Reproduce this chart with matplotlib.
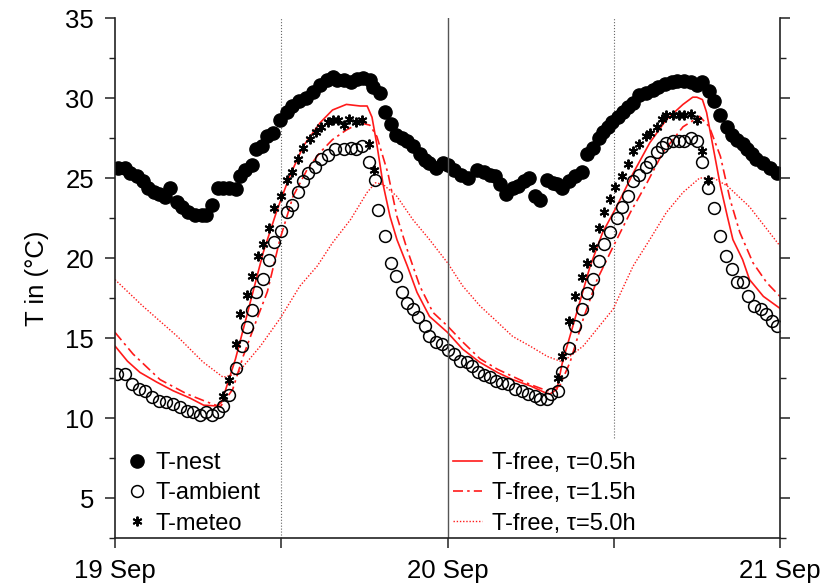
import numpy as np
import matplotlib
matplotlib.use("Agg")
import matplotlib.pyplot as plt
from matplotlib.lines import Line2D

plt.rcParams['font.family'] = ['Liberation Sans', 'DejaVu Sans']

# hours since 19 Sep 00:00
nest_h = [0.2, 0.7, 1.1, 1.6, 2.0, 2.4, 2.8, 3.2, 3.6, 4.0,
          4.5, 4.8, 5.3, 5.8, 6.3, 6.6, 7.0, 7.4, 7.8, 8.2,
          8.7, 9.0, 9.4, 9.9, 10.2, 10.6, 11.0, 11.4, 11.9, 12.4,
          12.8, 13.3, 13.8, 14.3, 14.8, 15.3, 15.7, 16.0, 16.5, 17.0,
          17.5, 17.9, 18.4, 18.6, 19.1, 19.5, 19.9, 20.3, 20.7, 21.1,
          21.5, 22.0, 22.4, 22.7, 23.2, 23.7, 24.0, 24.5, 25.0, 25.5,
          26.1, 26.6, 27.1, 27.4, 27.8, 28.2, 28.7, 29.1, 29.5, 29.9,
          30.3, 30.7, 31.2, 31.6, 31.9, 32.3, 32.8, 33.2, 33.7, 34.1,
          34.5, 34.9, 35.2, 35.6, 35.9, 36.3, 36.7, 37.0, 37.4, 37.8,
          38.3, 38.8, 39.2, 39.7, 40.2, 40.6, 41.1, 41.6, 42.0, 42.4,
          42.9, 43.2, 43.7, 44.2, 44.5, 44.9, 45.3, 45.6, 46.0, 46.3,
          46.8, 47.3, 47.8]
nest_T = [25.65, 25.65, 25.3, 25.1, 24.8, 24.4, 24.1, 24.0, 23.8, 24.4,
          23.5, 23.2, 22.9, 22.7, 22.7, 22.7, 23.3, 24.4, 24.4, 24.4,
          24.3, 25.1, 25.5, 25.8, 26.8, 27.0, 27.6, 27.8, 28.6, 29.1,
          29.5, 29.8, 30.0, 30.4, 30.8, 31.1, 31.3, 31.1, 31.1, 31.0,
          31.2, 31.25, 31.1, 30.7, 30.3, 29.1, 28.4, 27.7, 27.5, 27.3,
          27.0, 26.5, 26.1, 25.95, 25.65, 25.95, 25.8, 25.5, 25.2, 25.0,
          25.5, 25.4, 25.2, 25.1, 24.6, 24.0, 24.4, 24.5, 24.8, 25.0,
          23.85, 23.65, 24.9, 24.7, 24.6, 24.4, 24.8, 25.1, 25.4, 26.5,
          26.9, 27.5, 27.9, 28.2, 28.5, 28.8, 29.1, 29.45, 29.7, 30.2,
          30.3, 30.5, 30.7, 30.9, 31.0, 31.05, 31.05, 31.0, 30.8, 31.0,
          30.45, 29.8, 28.95, 28.2, 27.7, 27.4, 27.1, 26.8, 26.5, 26.2,
          25.95, 25.65, 25.3]

amb_h = [0.15, 0.7, 1.2, 1.7, 2.2, 2.7, 3.2, 3.7, 4.2, 4.7,
         5.2, 5.6, 6.1, 6.6, 7.0, 7.4, 7.8, 8.2, 8.7, 9.2,
         9.5, 9.9, 10.2, 10.7, 11.1, 11.5, 12.0, 12.4, 12.8, 13.2,
         13.6, 13.9, 14.4, 14.9, 15.4, 15.9, 16.5, 17.0, 17.4, 17.8,
         18.3, 18.8, 19.0, 19.5, 19.9, 20.3, 20.7, 21.1, 21.5, 21.9,
         22.4, 22.7, 23.2, 23.6, 24.0, 24.5, 24.9, 25.4, 25.8, 26.2,
         26.6, 27.1, 27.5, 27.9, 28.4, 28.9, 29.4, 29.8, 30.3, 30.7,
         31.2, 31.5, 32.0, 32.3, 32.8, 33.2, 33.7, 34.1, 34.5, 34.9,
         35.3, 35.7, 36.2, 36.6, 37.0, 37.4, 37.8, 38.3, 38.6, 39.1,
         39.5, 39.8, 40.3, 40.7, 41.1, 41.6, 42.0, 42.4, 42.8, 43.2,
         43.7, 44.1, 44.5, 44.9, 45.3, 45.7, 46.1, 46.6, 47.0, 47.4,
         47.8]
amb_T = [12.74, 12.74, 12.1, 11.8, 11.7, 11.3, 11.05, 11.0, 10.9, 10.7,
         10.45, 10.4, 10.2, 10.4, 10.2, 10.4, 10.75, 11.45, 13.1, 14.5,
         15.7, 16.75, 17.85, 18.7, 19.9, 21.0, 21.7, 22.85, 23.3, 24.1,
         24.8, 25.3, 25.7, 26.2, 26.45, 26.8, 26.8, 26.9, 26.8, 27.0,
         26.0, 24.9, 23.0, 21.35, 19.7, 18.9, 17.85, 17.2, 16.8, 16.3,
         15.75, 15.1, 14.75, 14.6, 14.25, 14.0, 13.55, 13.5, 13.25, 12.9,
         12.7, 12.55, 12.3, 12.2, 12.1, 11.8, 11.7, 11.5, 11.4, 11.2,
         11.2, 11.5, 11.7, 12.9, 14.4, 15.75, 16.8, 17.8, 18.7, 19.8,
         20.85, 21.6, 22.5, 23.2, 23.85, 24.8, 25.2, 25.7, 26.0, 26.6,
         26.95, 27.2, 27.3, 27.3, 27.3, 27.5, 27.3, 26.0, 24.4, 23.1,
         21.35, 20.1, 19.3, 18.5, 18.5, 17.6, 17.0, 16.8, 16.5, 16.05,
         15.75]

met_h = [7.8, 8.2, 8.7, 9.0, 9.5, 9.9, 10.3, 10.7, 11.1, 11.5,
         12.0, 12.4, 12.8, 13.2, 13.6, 14.1, 14.5, 14.9, 15.4, 15.7,
         16.1, 16.5, 16.9, 17.4, 17.8, 18.3, 18.7,
         32.0, 32.3, 32.8, 33.2, 33.7, 34.1, 34.5, 34.9, 35.3, 35.7,
         36.1, 36.6, 37.0, 37.4, 37.8, 38.3, 38.6, 39.1, 39.5, 39.8,
         40.3, 40.7, 41.1, 41.6, 42.0, 42.4, 42.8]
met_T = [11.4, 12.4, 14.6, 16.5, 17.7, 18.85, 20.1, 20.85, 21.9, 23.1,
         23.85, 24.9, 25.4, 26.2, 26.9, 27.45, 27.9, 28.2, 28.5, 28.65,
         28.6, 28.3, 28.7, 28.5, 28.65, 27.1, 25.5,
         12.5, 13.9, 16.05, 17.65, 18.8, 19.7, 20.7, 21.9, 22.85, 23.7,
         24.45, 25.15, 25.85, 26.7, 27.15, 27.6, 27.8, 28.2, 28.7, 28.95,
         28.95, 28.95, 28.95, 29.0, 28.6, 26.7, 24.85]

# modelled free-air temperature, tau = 0.5h
f05_h = [0, 0.9, 1.8, 3.0, 4.2, 5.4, 6.4, 7.4, 7.7, 8.7,
         9.5, 10.7, 11.7, 12.6, 13.6, 14.8, 15.7, 16.7, 17.7, 18.2,
         18.55, 18.9, 19.35, 19.85, 20.35, 21.1, 21.8, 22.7, 24.0, 25.1,
         26.3, 27.6, 28.7, 30.0, 31.0, 31.4, 31.9, 32.3, 32.8, 33.6,
         34.3, 35.2, 36.2, 37.4, 38.6, 39.8, 41.0, 41.7, 42.0, 42.4,
         42.7, 43.2, 43.7, 44.2, 44.6, 45.3, 45.8, 46.8, 48.0]
f05_T = [14.5, 13.55, 12.85, 12.25, 11.7, 11.25, 10.8, 10.75, 11.0, 13.7,
         16.35, 20.35, 23.0, 25.1, 27.0, 28.45, 29.25, 29.6, 29.5, 29.5,
         28.8, 27.1, 24.6, 22.6, 21.15, 19.5, 17.85, 16.35, 15.35, 14.3,
         13.5, 12.85, 12.4, 12.0, 11.6, 11.5, 11.8, 13.5, 15.0, 17.4,
         19.5, 21.6, 23.2, 25.3, 27.2, 28.65, 29.6, 30.05, 30.05, 29.9,
         29.1, 26.8, 24.5, 22.6, 21.15, 19.9, 18.65, 17.6, 16.85]

# tau = 1.5h
f15_h = [0, 1.3, 3.25, 5.2, 6.65, 7.6, 8.5, 9.25, 10.25, 11.0,
         11.9, 12.85, 13.85, 14.8, 15.7, 16.7, 17.7, 18.4, 18.9, 19.7,
         20.35, 21.1, 22.0, 22.95, 24.0, 25.1, 26.35, 27.6, 28.7, 29.95,
         31.2, 32.1, 32.85, 33.8, 34.8, 35.95, 37.2, 38.4, 39.55, 41.0,
         42.2, 42.9, 43.7, 44.4, 45.1, 46.05, 47.05, 48.0]
f15_T = [15.35, 14.0, 12.4, 11.5, 11.0, 10.7, 11.8, 13.85, 16.2, 17.9,
         21.15, 23.85, 25.5, 26.6, 27.4, 28.0, 28.45, 28.3, 27.6, 25.3,
         22.6, 20.5, 18.25, 16.6, 15.75, 14.75, 13.7, 13.05, 12.6, 12.1,
         11.7, 12.0, 13.5, 16.2, 18.65, 20.7, 22.85, 24.7, 26.6, 28.2,
         28.85, 28.2, 26.35, 23.65, 21.6, 19.7, 18.45, 17.6]

# tau = 5.0h
f50_h = [0, 2.0, 4.5, 6.35, 7.8, 8.8, 10.5, 11.9, 13.35, 14.6,
         15.7, 17.0, 18.2, 18.8, 19.35, 20.35, 21.5, 22.7, 24.0, 25.1,
         26.35, 27.6, 28.7, 29.95, 31.2, 32.3, 33.8, 35.95, 37.4, 38.6,
         39.8, 41.0, 42.2, 43.2, 44.2, 45.8, 48.0]
f50_T = [18.65, 17.0, 15.1, 13.5, 12.55, 12.75, 14.5, 16.2, 18.25, 19.5,
         20.95, 22.4, 24.1, 24.7, 24.6, 23.85, 22.4, 21.15, 19.7, 18.25,
         17.0, 16.0, 15.1, 14.5, 13.85, 13.5, 14.5, 16.8, 19.5, 21.15,
         22.85, 24.1, 25.0, 25.0, 24.5, 23.2, 20.75]

day_ticks = [0, 24, 48]
day_labels = ['19 Sep', '20 Sep', '21 Sep']

fig = plt.figure(figsize=(8.27, 5.86), dpi=100)
ax = fig.add_axes([115 / 827, 1 - 538 / 586, 665 / 827, 520 / 586])

ax.axvline(24, color='#555555', lw=1.0, zorder=7)
ax.axvline(12, color='#666666', lw=0.8, ls=':', zorder=1)
ax.axvline(36, color='#666666', lw=0.8, ls=':', zorder=1)

red = '#ff1a1a'
ax.plot(f05_h, f05_T, color=red, lw=1.2, zorder=3)
ax.plot(f15_h, f15_T, color=red, lw=1.2, ls=(0, (6, 2.5, 1.5, 2.5)), zorder=3)
ax.plot(f50_h, f50_T, color=red, lw=1.0, ls=(0, (1, 1.3)), zorder=3)

ax.plot(nest_h, nest_T, 'o', color='black', ms=9.5, zorder=4)
ax.plot(amb_h, amb_T, 'o', mfc='none', mec='black', ms=8.5, mew=1.1, zorder=4)
ax.plot(met_h, met_T, ls='none', marker=(6, 2, 0), color='black', ms=7, mew=1.4, zorder=5)

ax.set_xlim(0, 48)
ax.set_ylim(2.5, 35)
ax.set_xticks(day_ticks)
ax.set_xticklabels(day_labels)
ax.set_xticks([12, 36], minor=True)
ax.set_yticks([5, 10, 15, 20, 25, 30, 35])
ax.set_yticks(np.arange(2.5, 35.1, 2.5), minor=True)
ax.set_ylabel('T in (°C)', fontsize=18.5, labelpad=12)

for s in ['left', 'right', 'bottom']:
    ax.spines[s].set_linewidth(1.2)
    ax.spines[s].set_color('#222222')
    ax.spines[s].set_zorder(10)
ax.spines['top'].set_visible(False)
ax.xaxis.set_zorder(10)

ax.tick_params(axis='both', which='major', direction='out', length=7, width=1.1,
               labelsize=18.5, pad=8, color='#222222')
ax.tick_params(axis='y', which='minor', direction='out', length=4.5, width=1.0, color='#222222')
ax.tick_params(axis='x', which='minor', direction='out', length=7, width=1.1, color='#222222')
ax.tick_params(axis='y', which='both', right=True, labelright=False)

left_handles = [
    Line2D([], [], ls='none', marker='o', color='black', ms=9.5),
    Line2D([], [], ls='none', marker='o', mfc='none', mec='black', ms=8.5, mew=1.1),
    Line2D([], [], ls='none', marker=(6, 2, 0), color='black', ms=7, mew=1.4),
]
leg1 = ax.legend(left_handles, ['T-nest', 'T-ambient', 'T-meteo'], loc='lower left',
                 bbox_to_anchor=(-0.003, -0.016), frameon=False, fontsize=17,
                 handlelength=1.0, handletextpad=0.3, labelspacing=0.35,
                 borderaxespad=0.0, borderpad=0.5)
ax.add_artist(leg1)

right_handles = [
    Line2D([], [], color=red, lw=1.2),
    Line2D([], [], color=red, lw=1.2, ls=(0, (6, 2.5, 1.5, 2.5))),
    Line2D([], [], color=red, lw=1.0, ls=(0, (1, 1.3))),
]
leg2 = ax.legend(right_handles, ['T-free, τ=0.5h', 'T-free, τ=1.5h', 'T-free, τ=5.0h'],
                 loc='lower left', bbox_to_anchor=(0.491, -0.016), frameon=True, fontsize=17,
                 handlelength=1.2, handletextpad=0.45, labelspacing=0.35,
                 borderaxespad=0.0, borderpad=0.5, fancybox=False)
leg2.get_frame().set_facecolor('white')
leg2.get_frame().set_edgecolor('none')
leg2.get_frame().set_alpha(1.0)
leg2.set_zorder(6)

fig.savefig('out.png', dpi=100)
